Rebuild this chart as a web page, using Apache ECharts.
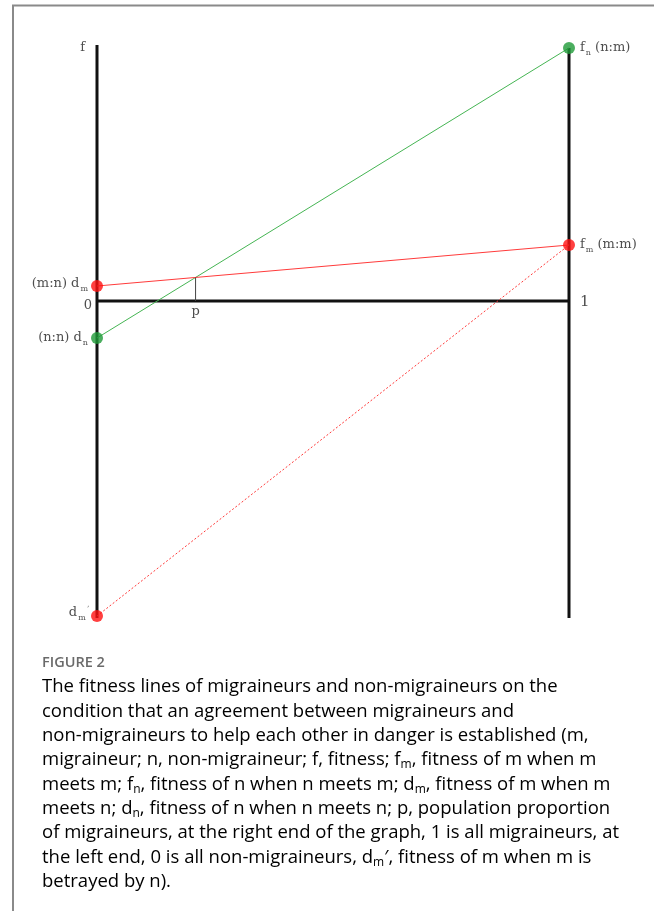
<!DOCTYPE html>
<html>
<head>
<meta charset="utf-8">
<script src="https://cdn.jsdelivr.net/npm/echarts@6/dist/echarts.min.js"></script>
<style>
  html, body { margin: 0; padding: 0; background: #fff; }
  #chart { width: 654px; height: 911px; }
</style>
</head>
<body>
<div id="chart"></div>
<script>
// x: population proportion of migraineurs (0 .. 1)
const xEnds = [0, 1];
// fitness values at x = 0 and x = 1
const greenLine = [-3.7, 25.3];   // d_n (n:n) -> f_n (n:m)
const redLine = [1.5, 5.6];       // d_m (m:n) -> f_m (m:m)
const betrayLine = [-31.5, 5.6];  // d_m' -> f_m
const yRange = [-31.7, 25.6];

const captionLines = [
  '{t|The fitness lines of migraineurs and non-migraineurs on the}',
  '{t|condition that an agreement between migraineurs and}',
  '{t|non-migraineurs to help each other in danger is established (m,}',
  '{t|migraineur; n, non-migraineur; f, fitness; f}{s|m}{t|, fitness of m when m}',
  '{t|meets m; f}{s|n}{t|, fitness of n when n meets m; d}{s|m}{t|, fitness of m when m}',
  '{t|meets n; d}{s|n}{t|, fitness of n when n meets n; p, population proportion}',
  '{t|of migraineurs, at the right end of the graph, 1 is all migraineurs, at}',
  '{t|the left end, 0 is all non-migraineurs, d}{s|m}{t|\u2032, fitness of m when m is}',
  '{t|betrayed by n).}'
];

// where the two solid lines cross
const pX = (redLine[0] - greenLine[0]) /
  ((greenLine[1] - greenLine[0]) - (redLine[1] - redLine[0]));
const pY = greenLine[0] + (greenLine[1] - greenLine[0]) * pX;

const chart = echarts.init(document.getElementById('chart'));

const serif = 'DejaVu Serif';
const labelRich = {
  t: { fontFamily: serif, fontSize: 13, color: '#222' },
  b: { fontFamily: serif, fontSize: 15, color: '#222' },
  s: { fontFamily: serif, fontSize: 8, color: '#222', padding: [9, 0, 0, 1] },
  pr: { fontFamily: serif, fontSize: 7, color: '#222', padding: [0, 0, 8, 1] }
};

function pointLabel(text, pos, dist) {
  return { show: true, position: pos, distance: dist, formatter: text, rich: labelRich };
}

const GREEN_DOT = '#1e9a37', GREEN = '#45b553';
const RED_DOT = '#ff1010', RED = '#ff3b3b';

const frame = { type: 'line', symbol: 'none', silent: true, lineStyle: { color: '#111', width: 3 }, z: 2 };

const option = {
  backgroundColor: '#fff',
  animation: false,
  grid: { left: 97, right: 85, top: 45, bottom: 293 },
  xAxis: { type: 'value', min: 0, max: 1, show: false },
  yAxis: { type: 'value', min: yRange[0], max: yRange[1], show: false },
  series: [
    Object.assign({}, frame, { data: [[xEnds[0], yRange[0]], [xEnds[0], yRange[1]]] }),
    Object.assign({}, frame, { data: [[xEnds[1], yRange[0]], [xEnds[1], greenLine[1]]] }),
    Object.assign({}, frame, { data: [[xEnds[0], 0], [xEnds[1], 0]] }),
    {
      type: 'line', symbol: 'none', z: 3,
      data: [[xEnds[0], greenLine[0]], [xEnds[1], greenLine[1]]],
      lineStyle: { color: GREEN, width: 1 }
    },
    {
      type: 'line', symbol: 'none', z: 3,
      data: [[xEnds[0], redLine[0]], [xEnds[1], redLine[1]]],
      lineStyle: { color: RED, width: 1 }
    },
    {
      type: 'line', symbol: 'none', z: 3,
      data: [[xEnds[0], betrayLine[0]], [xEnds[1], betrayLine[1]]],
      lineStyle: { color: RED, width: 1, type: [2, 2] }
    },
    {
      type: 'line', symbol: 'none', z: 3,
      data: [[pX, 0], [pX, pY]],
      lineStyle: { color: '#444', width: 1 }
    },
    {
      type: 'scatter', symbolSize: 12, z: 5,
      data: [
        { value: [xEnds[1], greenLine[1]], itemStyle: { color: GREEN_DOT },
          label: pointLabel('{t|f}{s|n}{t| (n:m)}', 'right', 5) },
        { value: [xEnds[0], greenLine[0]], itemStyle: { color: GREEN_DOT },
          label: pointLabel('{t|(n:n) d}{s|n}', 'left', 3) },
        { value: [xEnds[1], redLine[1]], itemStyle: { color: RED_DOT },
          label: pointLabel('{t|f}{s|m}{t| (m:m)}', 'right', 5) },
        { value: [xEnds[0], redLine[0]], itemStyle: { color: RED_DOT },
          label: Object.assign(pointLabel('{t|(m:n) d}{s|m}', 'left', 3), { offset: [0, -2] }) },
        { value: [xEnds[0], betrayLine[0]], itemStyle: { color: RED_DOT },
          label: Object.assign(pointLabel('{t|d}{s|m}{pr|\u02bc}', 'left', 2), { offset: [0, -3] }) }
      ]
    },
    {
      type: 'scatter', symbolSize: 0, silent: true, z: 5,
      data: [
        { value: [xEnds[0], yRange[1]], label: Object.assign(pointLabel('{t|f}', 'left', 12), { offset: [0, 3] }) },
        { value: [xEnds[0], 0], label: Object.assign(pointLabel('{t|0}', 'left', 5), { offset: [0, 5] }) },
        { value: [xEnds[1], 0], label: Object.assign(pointLabel('{b|1}', 'right', 11), { offset: [0, 1] }) },
        { value: [pX, 0], label: pointLabel('{t|p}', 'bottom', 4) }
      ]
    }
  ],
  graphic: [
    {
      type: 'polyline', silent: true,
      shape: { points: [[13, 911], [13, 5.5], [654, 5.5]] },
      style: { stroke: '#8a8a8a', lineWidth: 2, fill: null }
    },
    {
      type: 'text', x: 42, y: 663,
      style: { text: 'FIGURE 2', font: '600 14.5px "Open Sans"', fill: '#6a6a6a', verticalAlign: 'middle' }
    }
  ].concat(captionLines.map((line, i) => ({
    type: 'text', x: 42, y: 687 + i * 24.35,
    style: {
      text: line, verticalAlign: 'middle',
      rich: {
        t: { fontFamily: 'Open Sans', fontSize: 18.5, color: '#737373' },
        s: { fontFamily: 'Open Sans', fontSize: 12, color: '#737373', padding: [10, 0, 0, 0] }
      }
    }
  })))
};

chart.setOption(option);
</script>
</body>
</html>
